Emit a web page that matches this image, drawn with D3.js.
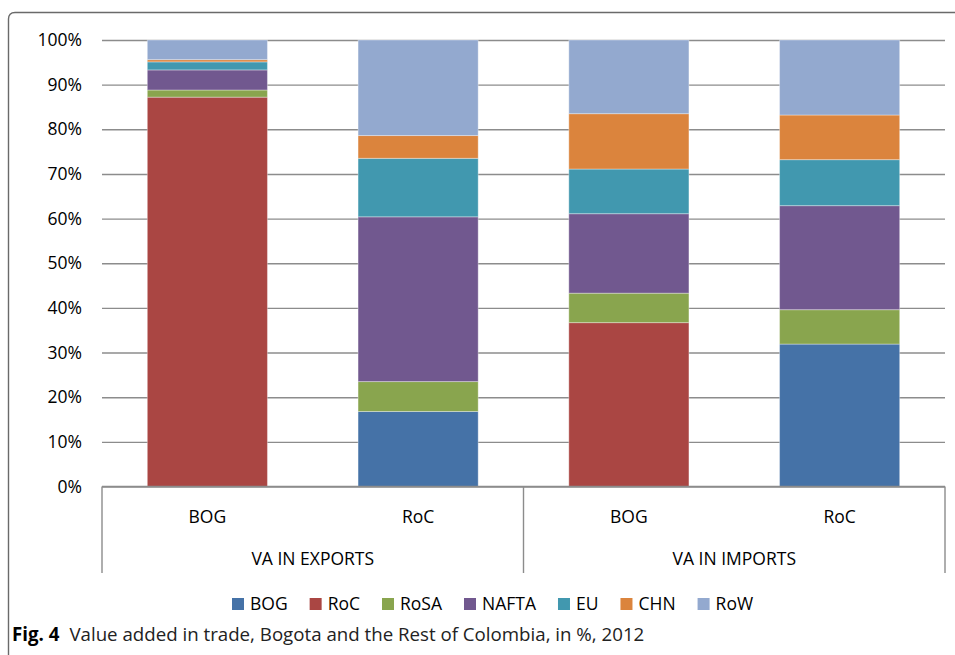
<!DOCTYPE html>
<html lang="en">
<head>
<meta charset="UTF-8" />
<title>Value added in trade</title>
<script src="https://d3js.org/d3.v7.min.js"></script>
<style>
  body { margin: 0; background: #fff; }
  svg { display: block; font-family: "Open Sans", "Noto Sans", sans-serif; }
</style>
</head>
<body>
<svg id="chart" width="955" height="655"></svg>
<script>
// categories
const groups = ["VA IN EXPORTS", "VA IN IMPORTS"];
const columns = ["BOG", "RoC", "BOG", "RoC"];
const seriesNames = ["BOG", "RoC", "RoSA", "NAFTA", "EU", "CHN", "RoW"];
const yTicks = [0, 0.1, 0.2, 0.3, 0.4, 0.5, 0.6, 0.7, 0.8, 0.9, 1];

// shares in %, one value per column
const BOG   = [0,    16.8, 0,    31.9];
const RoC   = [87.2, 0,    36.7, 0];
const RoSA  = [1.6,  6.7,  6.6,  7.7];
const NAFTA = [4.5,  36.9, 17.8, 23.3];
const EU    = [1.8,  13.1, 10.0, 10.3];
const CHN   = [0.5,  5.1,  12.4, 10.0];
const RoW   = [4.4,  21.4, 16.5, 16.8];

const colors = ["#4572A7", "#AA4643", "#89A54E", "#71588F", "#4198AF", "#DB843D", "#93A9CF"];

const seriesValues = [BOG, RoC, RoSA, NAFTA, EU, CHN, RoW];
const rows = columns.map((c, i) => {
  const r = { idx: i };
  seriesNames.forEach((s, j) => r[s] = seriesValues[j][i] / 100);
  return r;
});

const svg = d3.select("#chart");
const plot = { left: 102, right: 945, top: 40, bottom: 486.5 };
const fs = "17.5px";

// frame around the figure
svg.append("path")
  .attr("d", `M8.5,660 L8.5,19 Q8.5,12.5 15,12.5 L960,12.5`)
  .attr("fill", "none")
  .attr("stroke", "#6a6a6a")
  .attr("stroke-width", 1.4);

const x = d3.scaleBand()
  .domain(d3.range(columns.length))
  .range([plot.left, plot.right])
  .paddingInner(0.43)
  .paddingOuter(0.215);

const xg = d3.scaleBand()
  .domain(groups)
  .range([plot.left, plot.right]);

const y = d3.scaleLinear().domain([0, 1]).range([plot.bottom, plot.top]);

// gridlines + y labels
const yAxis = svg.append("g")
  .attr("transform", `translate(${plot.left},0)`)
  .call(d3.axisLeft(y).tickValues(yTicks).tickSize(-(plot.right - plot.left)).tickFormat(d3.format(".0%")));
yAxis.select(".domain").remove();
yAxis.selectAll(".tick line")
  .attr("stroke", "#8c8c8c")
  .attr("stroke-width", 1.4);
yAxis.selectAll(".tick text")
  .attr("x", -20)
  .attr("font-size", fs)
  .attr("fill", "#000")
  .attr("font-family", "'Open Sans', sans-serif");

// stacked bars
const stacked = d3.stack().keys(seriesNames)(rows);
svg.append("g")
  .selectAll("g")
  .data(stacked)
  .join("g")
    .attr("fill", (d, i) => colors[i])
  .selectAll("rect")
  .data(d => d)
  .join("rect")
    .attr("x", d => x(d.data.idx))
    .attr("width", x.bandwidth())
    .attr("y", d => y(d[1]))
    .attr("height", d => y(d[0]) - y(d[1]))
    .attr("stroke", "rgba(255,255,255,0.35)")
    .attr("stroke-width", 1);

// multi-level category axis
const axisCol = "#8c8c8c";
const catAxis = svg.append("g");
catAxis.append("line")
  .attr("x1", plot.left).attr("x2", plot.right)
  .attr("y1", plot.bottom).attr("y2", plot.bottom)
  .attr("stroke", axisCol).attr("stroke-width", 1.6);

const seps = [plot.left].concat(groups.map(g => xg(g) + xg.bandwidth()));
catAxis.selectAll(".sep")
  .data(seps)
  .join("line")
    .attr("class", "sep")
    .attr("x1", d => d).attr("x2", d => d)
    .attr("y1", plot.bottom).attr("y2", 573)
    .attr("stroke", axisCol).attr("stroke-width", 1.4);

catAxis.selectAll(".col-label")
  .data(columns)
  .join("text")
    .attr("class", "col-label")
    .attr("x", (d, i) => x(i) + x.bandwidth() / 2)
    .attr("y", 523)
    .attr("text-anchor", "middle")
    .attr("font-size", fs)
    .text(d => d);

catAxis.selectAll(".grp-label")
  .data(groups)
  .join("text")
    .attr("class", "grp-label")
    .attr("x", d => xg(d) + xg.bandwidth() / 2)
    .attr("y", 565)
    .attr("text-anchor", "middle")
    .attr("font-size", fs)
    .text(d => d);

// legend
const legend = svg.append("g").attr("transform", "translate(232,604)");
let lx = 0;
seriesNames.forEach((s, i) => {
  legend.append("rect")
    .attr("x", lx).attr("y", -6)
    .attr("width", 12).attr("height", 12)
    .attr("fill", colors[i]);
  const t = legend.append("text")
    .attr("x", lx + 18).attr("y", 0)
    .attr("dy", "0.35em")
    .attr("font-size", fs)
    .text(s);
  lx += 18 + t.node().getComputedTextLength() + 22;
});

// caption
const cap = svg.append("text")
  .attr("x", 12).attr("y", 641)
  .attr("font-size", "18.7px")
  .attr("font-family", "'Open Sans', sans-serif");
cap.append("tspan").attr("font-weight", "bold").text("Fig. 4");
cap.append("tspan").attr("dx", 10).attr("fill", "#222").text("Value added in trade, Bogota and the Rest of Colombia, in %, 2012");
</script>
</body>
</html>
